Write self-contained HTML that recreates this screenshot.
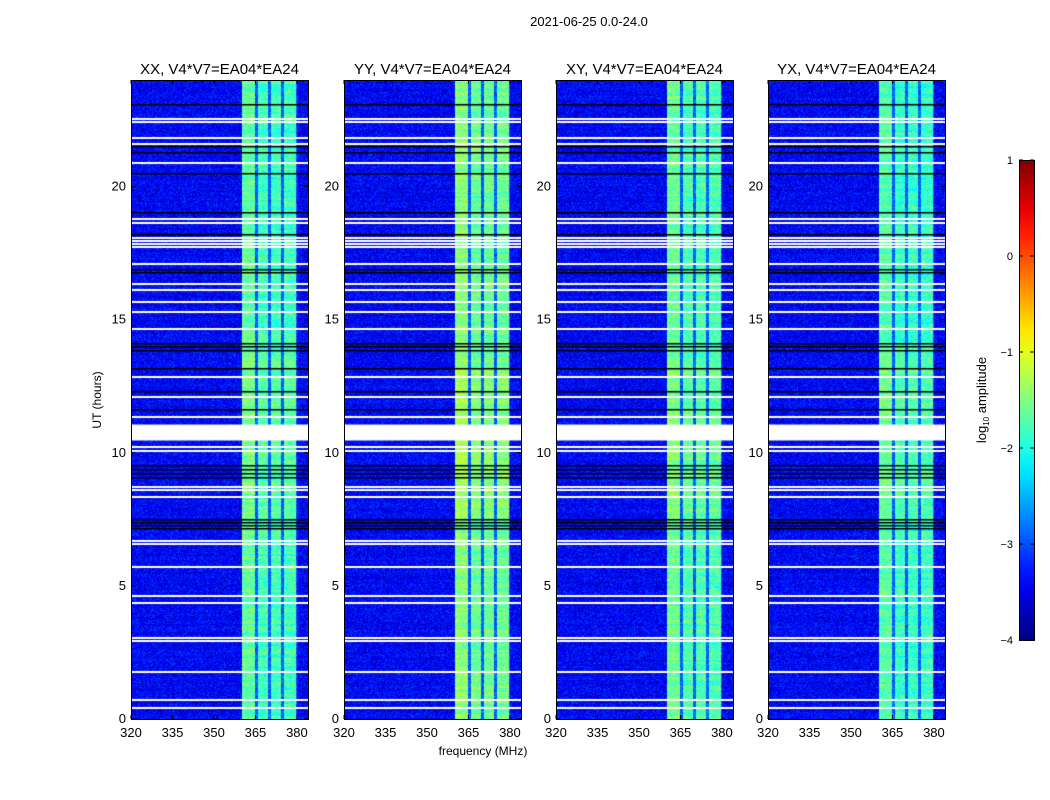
<!DOCTYPE html>
<html><head><meta charset="utf-8"><style>
body{margin:0;background:#fff;width:1050px;height:800px;overflow:hidden;font-family:"Liberation Sans","DejaVu Sans",sans-serif}
#root{position:relative;width:1050px;height:800px}
canvas{position:absolute}
svg{position:absolute;left:0;top:0}
</style></head><body>
<div id="root">
<svg id="ov" width="1050" height="800"></svg>
</div>
<script>
// ---- data ----
const panelTitles = ["XX, V4*V7=EA04*EA24","YY, V4*V7=EA04*EA24","XY, V4*V7=EA04*EA24","YX, V4*V7=EA04*EA24"];
const freqTicks = [320,335,350,365,380];
const hourTicks = [0,5,10,15,20];
const cbarTicks = [1,0,-1,-2,-3,-4];
const bandSegments = [[360.3,365.0],[366.0,369.6],[370.8,374.3],[375.5,379.5]];
const bandLevel = [-1.8,-1.6,-1.75,-1.85];
const backgroundLevel = -3.4;
const whiteLines = [22.53,22.42,21.82,21.6,20.88,18.79,18.64,18.08,17.96,17.85,17.74,17.1,16.35,16.12,15.67,15.3,14.66,12.86,12.11,11.36,10.2,10.05,8.7,8.59,8.32,6.67,6.56,5.7,4.61,4.35,3.04,2.92,1.76,0.71,0.41];
const whiteBlocks = [[10.46,11.06]];
const blackLines = [23.06,21.49,21.26,20.47,19.01,18.19,16.87,16.76,14.1,13.99,13.84,13.16,12.3,11.59,9.52,9.34,9.19,9.04,7.46,7.35,7.24,7.12];

// ---- layout ----
const panelX=[131,344,556,768], PT=80, PW=177, PH=639;
const F0=320,F1=384,T0=0,T1=24;
const fx=(f,i)=>panelX[i]+(f-F0)/(F1-F0)*PW;
const ty=t=>PT+PH-(t-T0)/(T1-T0)*PH;
const cbX=1019,cbW=15,cbTop=160,cbBot=640;
const cy=v=>cbBot-(v+4)/5*(cbBot-cbTop);

function jet(v){v=Math.max(0,Math.min(1,v));const c=x=>Math.round(255*Math.max(0,Math.min(1,x)));
 return [c(1.5-Math.abs(4*v-3)),c(1.5-Math.abs(4*v-2)),c(1.5-Math.abs(4*v-1))];}
function hash(a,b,c){let h=(a*374761393+b*668265263+c*2147483647)|0;h=(h^(h>>>13))*1274126177|0;h^=h>>>16;return ((h>>>0)%10000)/10000;}

const root=document.getElementById('root');
const ov=document.getElementById('ov');
const NS='http://www.w3.org/2000/svg';
function el(tag,attrs,txt){const e=document.createElementNS(NS,tag);for(const k in attrs)e.setAttribute(k,attrs[k]);if(txt!==undefined)e.textContent=txt;ov.appendChild(e);return e;}

for(let i=0;i<4;i++){
 const cv=document.createElement('canvas');
 
 
 cv.width=PW;cv.height=PH;cv.style.left=panelX[i]+'px';cv.style.top=PT+'px';
 const ctx=cv.getContext('2d');const img=ctx.createImageData(PW,PH);
 for(let y=0;y<PH;y++){
  const t=T1-(y+0.5)/PH*(T1-T0);
  const rowN=hash(Math.floor(y/2),i,7)-0.5;
  for(let x=0;x<PW;x++){
   const f=F0+(x+0.5)/PW*(F1-F0);
   let inBand=false;for(const s of bandSegments)if(f>=s[0]&&f<=s[1])inBand=true;
   const n=hash(x,y,i)-0.5;
   let v;
   if(inBand){v=bandLevel[i]+0.7*n+0.3*rowN+((t>7.5&&t<13.6)?0.12:0)+(f<365.1?0.15:0);}
   else if(f>360&&f<380){v=-2.9+0.6*n;}
   else{v=backgroundLevel+0.7*n+0.12*rowN;}
   const c=jet((v+4)/5);const k=(y*PW+x)*4;
   img.data[k]=c[0];img.data[k+1]=c[1];img.data[k+2]=c[2];img.data[k+3]=255;
  }
 }
 ctx.putImageData(img,0,0);
 ctx.fillStyle='#000';
 for(const t of blackLines){ctx.fillRect(0,Math.round(ty(t)-PT)-1,PW,1.5);}
 ctx.fillStyle='#fff';
 for(const t of whiteLines){ctx.fillRect(0,Math.round(ty(t)-PT)-1,PW,2);}
 for(const b of whiteBlocks){ctx.fillRect(0,ty(b[1])-PT,PW,ty(b[0])-ty(b[1]));}
 root.insertBefore(cv,ov);

 const fr=el('rect',{x:panelX[i]+0.5,y:PT+0.5,width:PW,height:PH,fill:'none',stroke:'#000','stroke-width':1});
 
 
 const tt=el('text',{x:panelX[i]+PW/2,y:PT-6,'text-anchor':'middle','font-size':15},panelTitles[i]);
 
 
 for(const f of freqTicks){
  const x=fx(f,i);
  el('line',{x1:x,y1:PT+PH,x2:x,y2:PT+PH-4,stroke:'#000'});
  el('line',{x1:x,y1:PT,x2:x,y2:PT+4,stroke:'#000'});
  const lb=el('text',{x:x,y:PT+PH+18,'text-anchor':'middle','font-size':13},String(f));
  
  
 }
 for(const h of hourTicks){
  const y=ty(h);
  el('line',{x1:panelX[i],y1:y,x2:panelX[i]+4,y2:y,stroke:'#000'});
  el('line',{x1:panelX[i]+PW,y1:y,x2:panelX[i]+PW-4,y2:y,stroke:'#000'});
  const lb=el('text',{x:panelX[i]-5,y:y+4,'text-anchor':'end','font-size':13},String(h));
  
  
 }
}
const st=el('text',{x:589,y:26,'text-anchor':'middle','font-size':13},'2021-06-25 0.0-24.0');


const xt=el('text',{x:483,y:755,'text-anchor':'middle','font-size':12},'frequency (MHz)');


const yt=el('text',{x:0,y:0,'text-anchor':'middle','font-size':12,transform:'translate(101,400) rotate(-90)'},'UT (hours)');



const defs=el('defs',{});
const lg=document.createElementNS(NS,'linearGradient');
lg.setAttribute('id','jetg');lg.setAttribute('x1','0');lg.setAttribute('y1','1');lg.setAttribute('x2','0');lg.setAttribute('y2','0');
for(let s=0;s<=20;s++){const c=jet(s/20);const stp=document.createElementNS(NS,'stop');stp.setAttribute('offset',s/20);stp.setAttribute('stop-color','rgb('+c.join(',')+')');lg.appendChild(stp);}
defs.appendChild(lg);
const cb=el('rect',{x:cbX+0.5,y:cbTop+0.5,width:cbW,height:cbBot-cbTop,fill:'url(#jetg)',stroke:'#000','stroke-width':1});


for(const v of cbarTicks){
 const y=cy(v);
 el('line',{x1:cbX,y1:y,x2:cbX+4,y2:y,stroke:'#000'});
 el('line',{x1:cbX+cbW,y1:y,x2:cbX+cbW-4,y2:y,stroke:'#000'});
 const lb=el('text',{x:cbX-6,y:y+4,'text-anchor':'end','font-size':11},v<0?'\u2212'+(-v):String(v));
 
 
}
const ct=el('text',{x:0,y:0,'text-anchor':'middle','font-size':13,transform:'translate(986,400) rotate(-90)'});


ct.innerHTML='log<tspan font-size="8" dy="3">10</tspan><tspan dy="-3"> amplitude</tspan>';
</script>
</body></html>
